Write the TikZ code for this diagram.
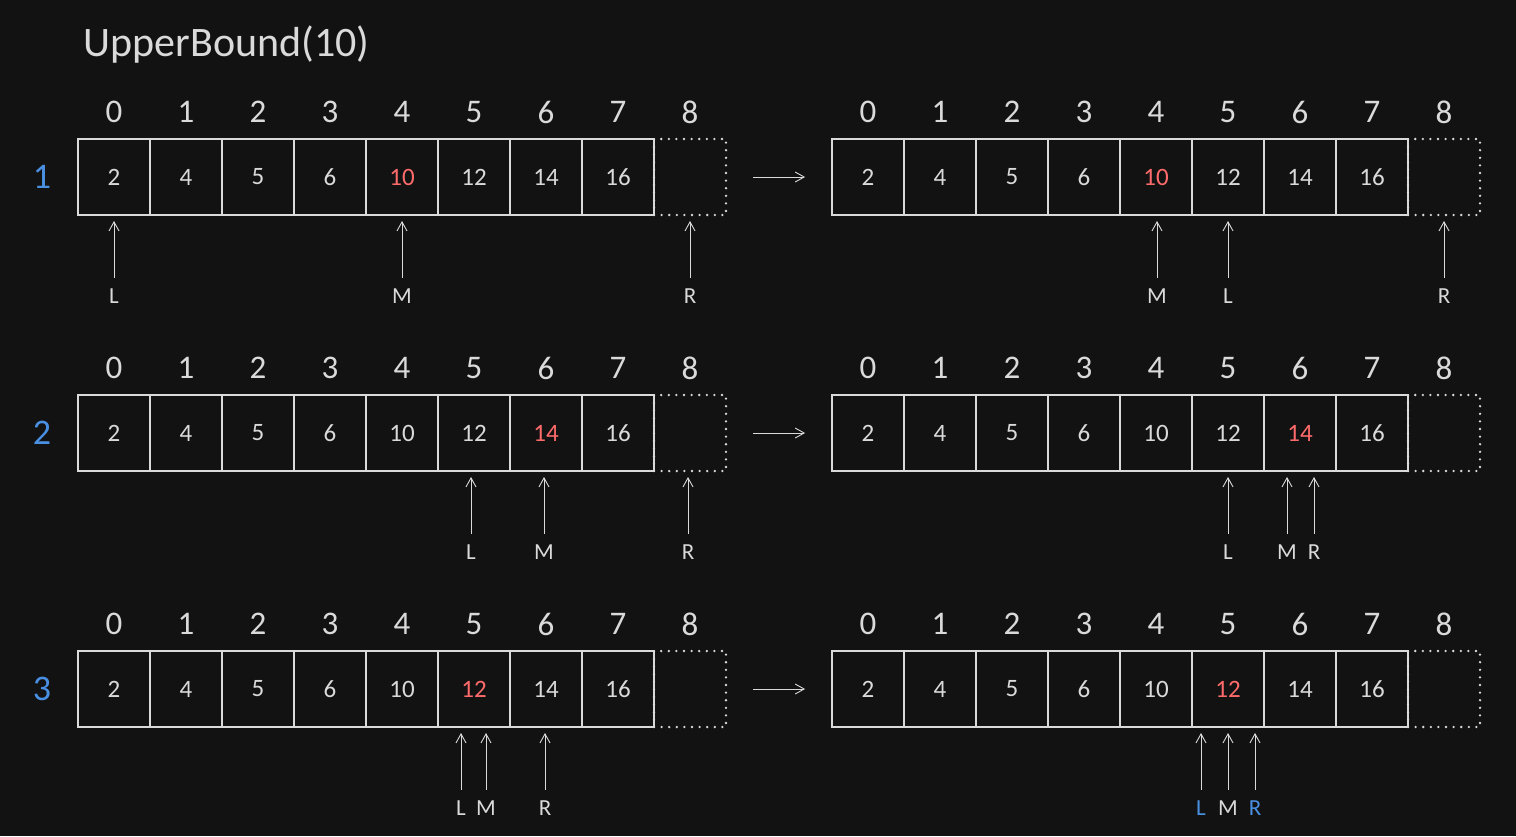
\documentclass[tikz,border=0pt]{standalone}
\usepackage{fontspec}
\setmainfont{Carlito}
\usetikzlibrary{arrows.meta}
\definecolor{bg}{HTML}{121212}
\definecolor{ink}{HTML}{DADADA}
\definecolor{hot}{HTML}{FF6B6B}
\definecolor{cool}{HTML}{4A90E2}
\begin{document}
\begin{tikzpicture}[%
  x=1pt, y=-1pt,
  cell/.style={draw=ink, line width=1.8pt, minimum width=72pt, minimum height=76pt,
    inner sep=0pt, font=\fontsize{25}{25}\selectfont},
  slot/.style={draw=ink, line width=2.6pt, line cap=round, dash pattern=on 0pt off 7.6pt,
    minimum width=72pt, minimum height=76pt, inner sep=0pt},
  idx/.style={text=ink, font=\fontsize{33}{33}\selectfont, inner sep=0pt},
  pass/.style={text=cool, font=\fontsize{36}{36}\selectfont, inner sep=0pt},
  ptr/.style={font=\fontsize{23}{23}\selectfont, inner sep=0pt, anchor=base},
  ptrline/.style={draw=ink, line width=0.9pt, shorten <=10pt,
    -{Straight Barb[length=9pt,width=10pt]}}
  ]
  \fill[bg] (0,0) rectangle (1516,836);
  \useasboundingbox (0,0) rectangle (1516,836);
  \node[anchor=west, text=ink, font=\fontsize{42}{42}\selectfont] (title) at (80,45) {UpperBound(10)};
  % the arrays, left before and right after each step
  \foreach \r/\y/\hi in {1/177/4, 2/433/6, 3/689/5} {
    \foreach \s/\x in {a/78, b/832} {
      \foreach \v [count=\i from 0] in {2,4,5,6,10,12,14,16} {
        \ifnum\i=\hi \def\tc{hot}\else\def\tc{ink}\fi
        \node[cell, text=\tc] (\s\r c\i) at (\x+36+72*\i,\y) {\v};
        \node[idx] (\s\r i\i) at (\x+36+72*\i,\y-65) {\i};
      }
      \node[slot] (\s\r c8) at (\x+36+72*8,\y) {};
      \node[idx] (\s\r i8) at (\x+36+72*8,\y-65) {8};
    }
    \node[pass] (step\r) at (42,\y) {\r};
    \draw[ptrline, shorten <=26pt, shorten >=26pt] (a\r c8.east) -- (b\r c0.west);
  }
  % L, M and R pointers
  \foreach \r/\s/\t/\x/\c in {1/a/L/114/ink, 1/a/M/402/ink, 1/a/R/690/ink,
      1/b/M/1157/ink, 1/b/L/1228/ink, 1/b/R/1444/ink,
      2/a/L/471/ink, 2/a/M/544/ink, 2/a/R/688/ink,
      2/b/L/1228/ink, 2/b/M/1287/ink, 2/b/R/1314/ink,
      3/a/L/461/ink, 3/a/M/486/ink, 3/a/R/545/ink,
      3/b/L/1201/cool, 3/b/M/1228/ink, 3/b/R/1255/cool} {
    \node[ptr, text=\c] (\s\r\t) at (\x,303+256*\r-256) {\t};
    \coordinate (\s\r\t tip) at (\x,221+256*\r-256);
    \draw[ptrline] (\s\r\t.north) -- (\s\r\t tip);
  }
\end{tikzpicture}
\end{document}
